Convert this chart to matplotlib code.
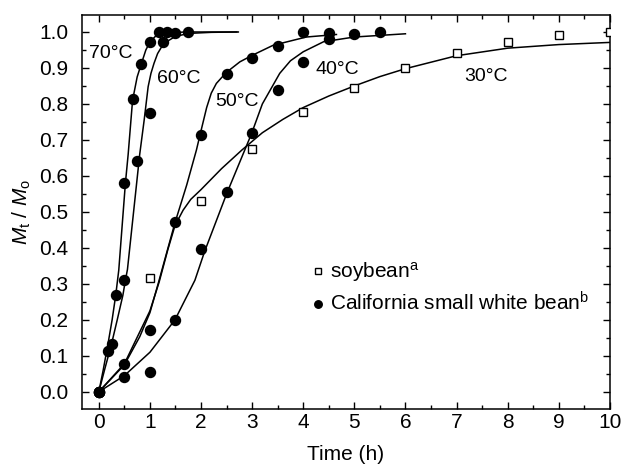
import matplotlib
matplotlib.use("Agg")
import matplotlib.pyplot as plt
from matplotlib.ticker import MultipleLocator

plt.rcParams['font.family'] = ['Liberation Sans', 'DejaVu Sans']
plt.rcParams['mathtext.fontset'] = 'custom'
plt.rcParams['mathtext.rm'] = 'Liberation Sans'
plt.rcParams['mathtext.it'] = 'Liberation Sans:italic'

# measured data: soybean (open squares)
soy_t = [1, 2, 3, 4, 5, 6, 7, 8, 9, 10]
soy_m = [0.315, 0.531, 0.676, 0.778, 0.845, 0.900, 0.942, 0.973, 0.992, 1.000]

# California small white bean (filled circles), per temperature
b70_t = [0, 0.17, 0.33, 0.5, 0.67, 0.83, 1.0, 1.17, 1.33]
b70_m = [0, 0.113, 0.268, 0.581, 0.813, 0.911, 0.973, 1.0, 1.0]
b60_t = [0, 0.25, 0.5, 0.75, 1.0, 1.25, 1.5, 1.75]
b60_m = [0, 0.133, 0.311, 0.641, 0.774, 0.973, 0.996, 1.0]
b50_t = [0, 0.5, 1.0, 1.5, 2.0, 2.5, 3.0, 3.5, 4.0, 4.5]
b50_m = [0, 0.076, 0.172, 0.471, 0.714, 0.883, 0.928, 0.960, 1.0, 0.997]
b40_t = [0, 0.5, 1.0, 1.5, 2.0, 2.5, 3.0, 3.5, 4.0, 4.5, 5.0, 5.5]
b40_m = [0, 0.041, 0.056, 0.199, 0.396, 0.554, 0.720, 0.838, 0.917, 0.981, 0.995, 1.0]

# fitted curves
c70_t = [0, 0.085, 0.18, 0.26, 0.33, 0.39, 0.45, 0.52, 0.574, 0.66, 0.75, 0.835,
         0.92, 1.0, 1.1, 1.2, 1.4, 1.7, 2.73]
c70_m = [0, 0.06, 0.134, 0.2, 0.268, 0.338, 0.45, 0.58, 0.66, 0.81, 0.875, 0.913,
         0.95, 0.972, 0.987, 0.994, 0.998, 1.0, 1.0]
c60_t = [0, 0.11, 0.25, 0.36, 0.47, 0.52, 0.56, 0.68, 0.8, 0.887, 0.965, 1.02,
         1.08, 1.15, 1.23, 1.35, 1.49, 1.75, 2.2, 2.7]
c60_m = [0, 0.06, 0.134, 0.2, 0.268, 0.31, 0.34, 0.5, 0.66, 0.755, 0.848, 0.885,
         0.913, 0.94, 0.959, 0.975, 0.987, 0.996, 0.999, 1.0]
c50_t = [0, 0.5, 0.8, 1.0, 1.16, 1.49, 1.6, 1.72, 1.91, 1.98, 2.11, 2.2, 2.3,
         2.49, 2.76, 3.0, 3.41, 4.06, 4.65]
c50_m = [0, 0.075, 0.153, 0.22, 0.30, 0.47, 0.52, 0.575, 0.672, 0.714, 0.79, 0.83,
         0.857, 0.887, 0.917, 0.935, 0.963, 0.986, 0.993]
c40_t = [0, 0.5, 1.0, 1.49, 1.88, 2.07, 2.5, 2.99, 3.2, 3.54, 3.75, 4.0, 4.4,
         5.0, 6.0]
c40_m = [0, 0.045, 0.11, 0.2, 0.31, 0.39, 0.55, 0.718, 0.80, 0.885, 0.92, 0.945,
         0.973, 0.986, 0.995]
c30_t = [0, 0.5, 1.0, 1.18, 1.35, 1.49, 1.65, 1.8, 2.0, 2.4, 2.8, 3.2, 3.6, 4.0,
         4.5, 5.0, 5.5, 6.0, 7.0, 8.0, 9.0, 10.0]
c30_m = [0, 0.078, 0.225, 0.305, 0.395, 0.462, 0.505, 0.535, 0.562, 0.62, 0.672, 0.72,
         0.757, 0.79, 0.822, 0.85, 0.876, 0.898, 0.934, 0.955, 0.965, 0.971]

curve_labels = ["70\u00b0C", "60\u00b0C", "50\u00b0C", "40\u00b0C", "30\u00b0C"]
label_pos = [(0.24, 0.94), (1.56, 0.871), (2.7, 0.807), (4.66, 0.895), (7.57, 0.877)]

fig = plt.figure(figsize=(6.21, 4.67), dpi=100)
ax = fig.add_axes([0.132, 0.124, 0.85, 0.8445])

for ct, cm in [(c70_t, c70_m), (c60_t, c60_m), (c50_t, c50_m), (c40_t, c40_m), (c30_t, c30_m)]:
    ax.plot(ct, cm, color="black", lw=1.1, zorder=2)

ax.plot(soy_t, soy_m, ls="none", marker="s", ms=6.2, mfc="white", mec="black",
        mew=1.0, zorder=3, label="soybean$^\\mathregular{a}$")
bean_t = b70_t + b60_t + b50_t + b40_t
bean_m = b70_m + b60_m + b50_m + b40_m
ax.plot(bean_t, bean_m, ls="none", marker="o", ms=7.2, mfc="black", mec="black",
        zorder=3, label="California small white bean$^\\mathregular{b}$")

for lab, (x, y) in zip(curve_labels, label_pos):
    ax.text(x, y, lab, fontsize=14, ha="center", va="center")

ax.set_xlim(-0.33, 10)
ax.set_ylim(-0.048, 1.048)
ax.xaxis.set_major_locator(MultipleLocator(1))
ax.xaxis.set_minor_locator(MultipleLocator(0.5))
ax.yaxis.set_major_locator(MultipleLocator(0.1))
ax.yaxis.set_minor_locator(MultipleLocator(0.05))
ax.yaxis.set_major_formatter(plt.FuncFormatter(lambda v, p: f"{v:.1f}"))
ax.tick_params(which="both", direction="in", top=True, right=True, width=1.0)
ax.tick_params(which="major", length=5, labelsize=15)
ax.tick_params(axis="x", which="major", pad=3)
ax.tick_params(axis="y", which="major", pad=10)
ax.tick_params(which="minor", length=3)
for s in ax.spines.values():
    s.set_linewidth(1.1)

ax.set_xlabel("Time (h)", fontsize=15, labelpad=9)
ax.set_ylabel("$M_\\mathregular{t}$ / $M_\\mathregular{o}$", fontsize=15, labelpad=4)

ax.legend(loc="center left", bbox_to_anchor=(0.418, 0.308), frameon=False,
          fontsize=15, markerscale=0.75, handlelength=0.5, handletextpad=0.3,
          labelspacing=0.35, borderpad=0)

fig.savefig("out.png", dpi=100)
